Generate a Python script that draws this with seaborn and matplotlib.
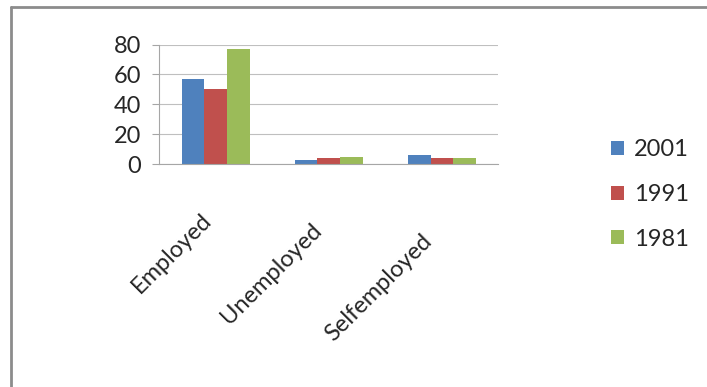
import pandas as pd
import numpy as np
import matplotlib.pyplot as plt
import matplotlib.transforms as mtransforms
import seaborn as sns

# Values
categories = ['Employed', 'Unemployed', 'Selfemployed']
years = ['2001', '1991', '1981']
values_2001 = [57, 3, 6]
values_1991 = [50, 4, 4]
values_1981 = [77, 5, 4]

colors = ['#4F81BD', '#C0504D', '#9BBB59']

df = pd.DataFrame({
    'Category': categories * 3,
    'Year': [years[0]] * 3 + [years[1]] * 3 + [years[2]] * 3,
    'Value': values_2001 + values_1991 + values_1981,
})

sns.set_style('white')
plt.rcParams['font.family'] = ['Lato', 'DejaVu Sans']

fig = plt.figure(figsize=(7.07, 3.87), dpi=100)
ax = fig.add_axes([0.225, 0.575, 0.48, 0.31])

sns.barplot(data=df, x='Category', y='Value', hue='Year', hue_order=years,
            palette=colors, width=0.6, ax=ax, edgecolor='none', saturation=1)

ax.set_ylim(0, 80)
ax.set_yticks([0, 20, 40, 60, 80])
ax.yaxis.grid(True, color='#BFBFBF', linewidth=0.8)
ax.set_axisbelow(True)
ax.set_xlabel('')
ax.set_ylabel('')
for s in ['top', 'right']:
    ax.spines[s].set_visible(False)
for s in ['left', 'bottom']:
    ax.spines[s].set_color('#A6A6A6')
ax.tick_params(axis='y', labelsize=17, length=5, color='#A6A6A6', left=True, pad=8)
ax.tick_params(axis='x', labelsize=17, length=0, pad=32)

# labels step down slightly left to right, like the tilted floor of the original
for i, lbl in enumerate(ax.get_xticklabels()):
    shift = mtransforms.ScaledTranslation(-0.15 - 0.03 * i, -0.11 * i, fig.dpi_scale_trans)
    lbl.set_rotation(45)
    lbl.set_ha('right')
    lbl.set_rotation_mode('anchor')
    lbl.set_transform(lbl.get_transform() + shift)

leg = ax.legend(loc='center left', bbox_to_anchor=(1.27, -0.25), frameon=False,
                fontsize=17, handlelength=0.55, handleheight=0.55,
                labelspacing=1.0, handletextpad=0.4)

# chart border (top and left edges only visible)
fig.add_artist(plt.Line2D([0.0156, 1.0], [0.982, 0.982], transform=fig.transFigure,
                          color='#8C8C8C', linewidth=2))
fig.add_artist(plt.Line2D([0.0156, 0.0156], [0.0, 0.982], transform=fig.transFigure,
                          color='#8C8C8C', linewidth=2))

fig.savefig('out.png', dpi=100)
